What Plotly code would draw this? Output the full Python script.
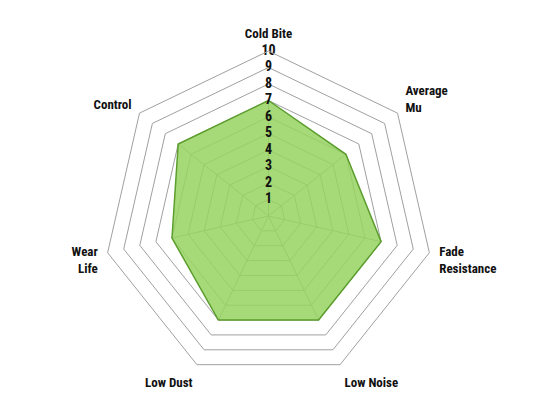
import plotly.graph_objects as go

categories = ["Cold Bite", "Average<br>Mu", "Fade<br>Resistance", "Low Noise", "Low Dust", "Wear<br>Life", "Control"]
values = [7, 6, 7, 7, 7, 6, 7]
tick_values = [1, 2, 3, 4, 5, 6, 7, 8, 9, 10]
tick_labels = [str(v) for v in tick_values]

FONT = "Liberation Sans Narrow, Arial Narrow, Roboto Condensed, Liberation Sans, Arial, sans-serif"

fig = go.Figure()

# spokes from centre to each data vertex (visible only inside the filled area)
sr, st = [], []
for c, v in zip(categories, values):
    sr += [0, v, None]
    st += [c, c, None]
fig.add_trace(go.Scatterpolar(r=sr, theta=st, mode="lines",
                              line=dict(color="#a0a0a0", width=1),
                              hoverinfo="skip", showlegend=False))

fig.add_trace(go.Scatterpolar(
    r=values + [values[0]], theta=categories + [categories[0]],
    mode="lines", fill="toself",
    fillcolor="rgba(150,210,95,0.85)",
    line=dict(color="#5c9e2e", width=1.5),
    showlegend=False))

fig.add_trace(go.Scatterpolar(
    r=tick_values, theta=[categories[0]] * len(tick_values),
    mode="text", text=tick_labels,
    textfont=dict(family=FONT, size=14, color="#111111", weight="bold"),
    hoverinfo="skip", showlegend=False))

fig.update_layout(
    width=533, height=406,
    margin=dict(l=0, r=12, t=43, b=33),
    paper_bgcolor="white",
    font=dict(family=FONT, size=12, color="#111111"),
    polar=dict(
        bgcolor="white",
        gridshape="linear",
        radialaxis=dict(range=[0, 10], dtick=1, tick0=0, showticklabels=False,
                        ticks="", showline=False, gridcolor="#a0a0a0", gridwidth=1),
        angularaxis=dict(rotation=90, direction="clockwise", showgrid=False,
                         showline=True, linecolor="#a0a0a0", linewidth=1,
                         ticks="outside", ticklen=7, tickcolor="rgba(0,0,0,0)",
                         tickfont=dict(family=FONT, size=13, color="#111111", weight="bold")),
    ),
)

fig.write_html("out.html")
